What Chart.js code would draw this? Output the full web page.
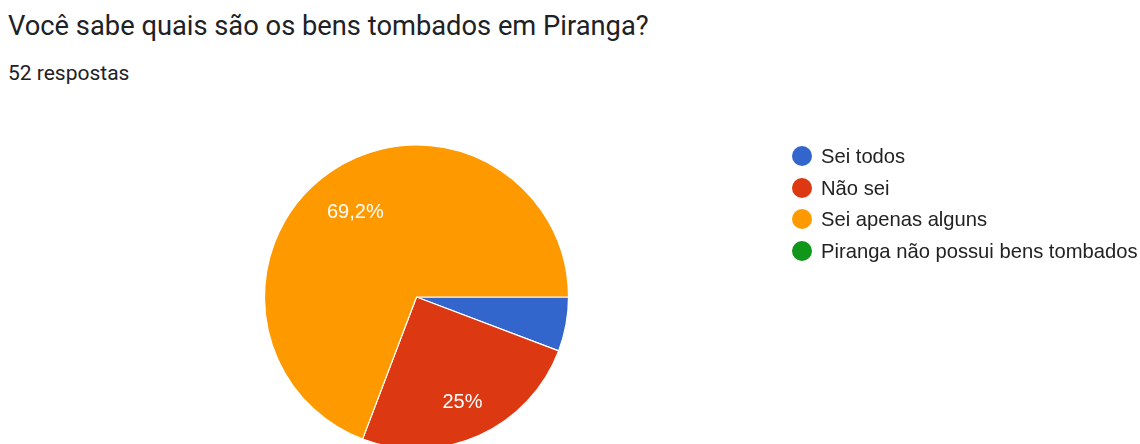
<!DOCTYPE html>
<html>
<head>
<meta charset="utf-8">
<script src="https://cdn.jsdelivr.net/npm/chart.js@4.4.1/dist/chart.umd.min.js"></script>
<style>
  html, body { margin: 0; padding: 0; background: #fff; width: 1140px; height: 444px; overflow: hidden; position: relative; }
  #title { position: absolute; left: 8px; top: 13px; font-family: Roboto, sans-serif; font-size: 27.3px; line-height: 27px; color: #202124; white-space: nowrap; }
  #subtitle { position: absolute; left: 8px; top: 63px; font-family: Roboto, sans-serif; font-size: 21px; line-height: 21px; color: #202124; white-space: nowrap; }
  #chart { position: absolute; left: 0; top: 0; }
  #legend { position: absolute; left: 792px; top: 140px; }
  .row { display: flex; align-items: center; height: 31.8px; }
  .dot { width: 20px; height: 20px; border-radius: 50%; margin-right: 9px; flex: none; }
  .lbl { font-family: "Liberation Sans", Arial, sans-serif; font-size: 20.2px; line-height: 20px; color: #222; white-space: nowrap; }
</style>
</head>
<body>
<div id="title"></div>
<div id="subtitle"></div>
<canvas id="chart" width="1140" height="460"></canvas>
<div id="legend"></div>
<script>
const titleText = 'Você sabe quais são os bens tombados em Piranga?';
const subtitleText = '52 respostas';
const categories = ['Sei todos', 'Não sei', 'Sei apenas alguns', 'Piranga não possui bens tombados'];
const counts = [3, 13, 36, 0];
const sliceColors = ['#3366cc', '#dc3912', '#ff9900', '#109618'];

document.getElementById('title').textContent = titleText;
document.getElementById('subtitle').textContent = subtitleText;

const legend = document.getElementById('legend');
categories.forEach((c, i) => {
  const row = document.createElement('div');
  row.className = 'row';
  const dot = document.createElement('span');
  dot.className = 'dot';
  dot.style.background = sliceColors[i];
  const lbl = document.createElement('span');
  lbl.className = 'lbl';
  lbl.textContent = c;
  row.appendChild(dot); row.appendChild(lbl);
  legend.appendChild(row);
});

const pctLabels = {
  id: 'pctLabels',
  afterDatasetsDraw(chart) {
    const ctx = chart.ctx;
    const meta = chart.getDatasetMeta(0);
    const data = chart.data.datasets[0].data;
    const total = data.reduce((a, b) => a + b, 0);
    ctx.save();
    ctx.fillStyle = '#ffffff';
    ctx.font = '20px "Liberation Sans", Arial, sans-serif';
    ctx.textAlign = 'center';
    ctx.textBaseline = 'alphabetic';
    meta.data.forEach((arc, i) => {
      const frac = data[i] / total;
      if (frac < 0.1) return;
      const p = arc.getProps(['x', 'y', 'startAngle', 'endAngle', 'outerRadius'], true);
      const mid = (p.startAngle + p.endAngle) / 2;
      const r = p.outerRadius * 0.72;
      let txt = (Math.round(frac * 1000) / 10).toFixed(1).replace('.', ',');
      if (txt.endsWith(',0')) txt = txt.slice(0, -2);
      ctx.fillText(txt + '%', p.x + Math.cos(mid) * r + 1, p.y + Math.sin(mid) * r + 11.5);
    });
    ctx.restore();
  }
};

new Chart(document.getElementById('chart'), {
  type: 'pie',
  data: {
    labels: categories,
    datasets: [{
      data: counts,
      backgroundColor: sliceColors,
      borderColor: '#ffffff',
      borderWidth: 1.2,
      radius: 152
    }]
  },
  options: {
    responsive: false,
    animation: false,
    devicePixelRatio: 1,
    rotation: 90,
    layout: { padding: { left: 264.5, right: 571.5, top: 145, bottom: 11 } },
    plugins: { legend: { display: false }, tooltip: { enabled: false }, title: { display: false } }
  },
  plugins: [pctLabels]
});
</script>
</body>
</html>
